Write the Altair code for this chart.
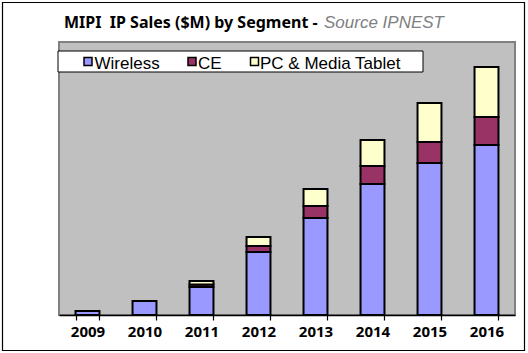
import altair as alt
import pandas as pd

# ---- data ----
years = ["2009", "2010", "2011", "2012", "2013", "2014", "2015", "2016"]
wireless = [4, 14, 28, 63, 97, 131, 152, 170]
ce = [0, 0, 2.5, 6, 12, 18, 21, 28]
pc = [0, 0, 3.5, 9, 17, 26, 39, 50]
segments = ["Wireless", "CE", "PC & Media Tablet"]
colors = ["#9999FF", "#993366", "#FFFFCC"]
title_main = "MIPI\u00a0\u00a0IP Sales ($M) by Segment -"
title_source = "Source IPNEST"

FONT = "Liberation Sans"
BOLD_FONT = "Noto Sans"

rows = []
for i, y in enumerate(years):
    for k, (seg, vals) in enumerate(zip(segments, [wireless, ce, pc])):
        if vals[i] > 0:
            rows.append({"year": y, "segment": seg, "value": vals[i], "idx": k})
df = pd.DataFrame(rows)

bars = alt.Chart(df).mark_bar(stroke="black", strokeWidth=2).encode(
    x=alt.X(
        "year:N",
        sort=years,
        scale=alt.Scale(paddingInner=0.58, paddingOuter=0.29),
        axis=alt.Axis(
            title=None, labelAngle=0, labelFont=BOLD_FONT, labelFontSize=15,
            labelFontWeight="bold", labelColor="black", domainColor="black",
            domainWidth=1.5, tickColor="black", tickSize=5, tickWidth=1.2,
            tickBand="extent", labelPadding=4,
        ),
    ),
    y=alt.Y("value:Q", stack="zero", scale=alt.Scale(domain=[0, 273], nice=False), axis=None),
    color=alt.Color("segment:N", scale=alt.Scale(domain=segments, range=colors), legend=None),
    order=alt.Order("idx:Q"),
)

one = pd.DataFrame({"a": [0]})

t1 = alt.Chart(pd.DataFrame({"t": [title_main]})).mark_text(
    align="left", baseline="alphabetic", font=BOLD_FONT, fontSize=16, fontWeight="bold", color="black"
).encode(text="t:N", x=alt.value(5), y=alt.value(-14))
t2 = alt.Chart(pd.DataFrame({"t": [title_source]})).mark_text(
    align="left", baseline="alphabetic", font=FONT, fontSize=17, fontStyle="italic", color="#808080"
).encode(text="t:N", x=alt.value(265), y=alt.value(-14))

legend_box = alt.Chart(one).mark_rect(fill="white", stroke="black", strokeWidth=1).encode(
    x=alt.value(-1), x2=alt.value(364), y=alt.value(9), y2=alt.value(30)
)

sq_x = [29, 133, 195.5]
tx_x = [35.5, 139, 201]
legend_layers = []
for seg, col, sx, tx in zip(segments, colors, sq_x, tx_x):
    legend_layers.append(
        alt.Chart(pd.DataFrame({"s": [seg]})).mark_square(
            size=64, fill=col, stroke="black", strokeWidth=1.5, opacity=1
        ).encode(x=alt.value(sx), y=alt.value(19.5))
    )
    legend_layers.append(
        alt.Chart(pd.DataFrame({"s": [seg]})).mark_text(
            align="left", baseline="alphabetic", font=FONT, fontSize=17, color="black"
        ).encode(text="s:N", x=alt.value(tx), y=alt.value(26.5))
    )

frame = alt.Chart(one).mark_rect(fillOpacity=0, stroke="black", strokeWidth=1.2).encode(
    x=alt.value(-56.5), x2=alt.value(465.5), y=alt.value(-39.5), y2=alt.value(308.5)
)

chart = alt.layer(bars, t1, t2, legend_box, *legend_layers, frame).properties(
    width=456,
    height=273,
    autosize=alt.AutoSizeParams(type="none"),
    padding={"left": 59, "top": 42, "right": 13, "bottom": 38},
    background="white",
).configure_view(
    fill="#C0C0C0", stroke="#808080", strokeWidth=2
)

chart.save("out.html", embed_options={"renderer": "svg", "actions": False})
